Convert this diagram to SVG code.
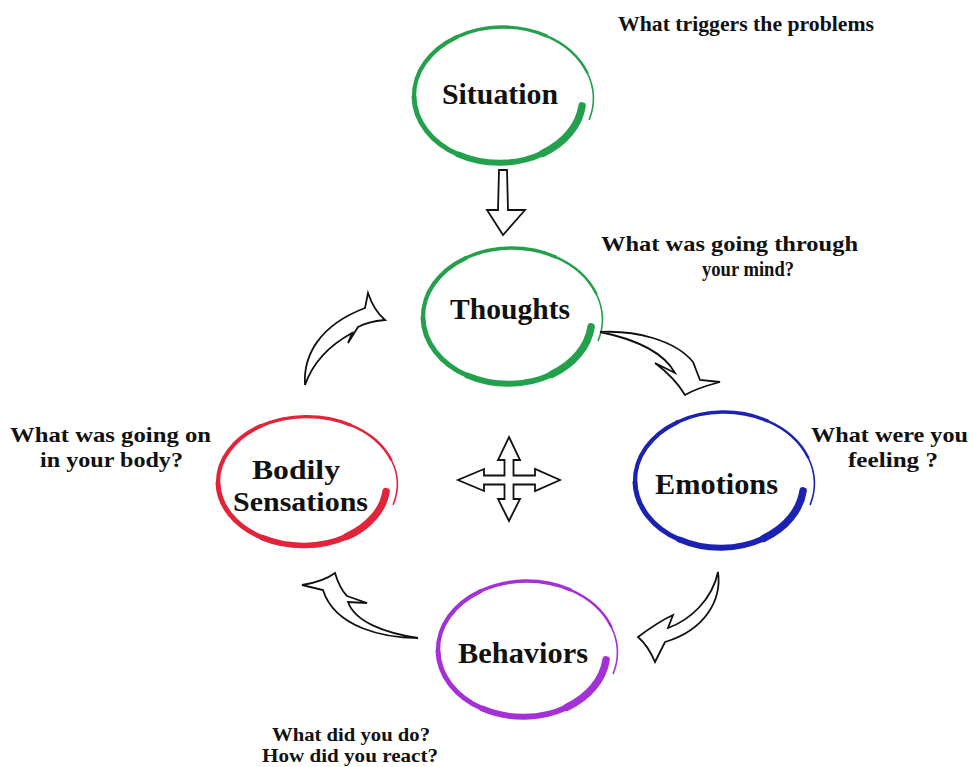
<svg xmlns="http://www.w3.org/2000/svg" xmlns:xlink="http://www.w3.org/1999/xlink" width="974" height="767" viewBox="0 0 974 767">
  <style>
    .label { font-family: "Liberation Serif", "Times New Roman", serif; font-weight: bold; font-size: 29px; fill: #111; }
    .label.two { font-size: 28px; }
    .note { font-family: "Liberation Serif", "Times New Roman", serif; font-weight: bold; font-size: 21px; fill: #111; }
    .note.small { font-size: 19px; }
    .arrow { fill: #fff; stroke: #111; stroke-width: 1.8; stroke-linejoin: miter; }
  </style>
  <defs>
    <!-- hand-drawn spiral ring: thick at lower right, tapering clockwise to a thin tail -->
    <g id="spiral" fill="none" stroke="currentColor" stroke-linecap="round">
      <path d="M81.10,8.89 A82.6,64.5 0 0 1 41.72,56.38" stroke-width="7.5"/>
      <path d="M41.72,56.38 A84.3,65.8 0 0 1 -42.60,57.57" stroke-width="6"/>
      <path d="M-42.60,57.57 A86.1,67.2 0 0 1 -86.98,0" stroke-width="5"/>
      <path d="M-86.98,0 A87.8,68.5 0 0 1 -44.37,-59.96" stroke-width="4.2"/>
      <path d="M-44.37,-59.96 A89.6,69.9 0 0 1 45.26,-61.16" stroke-width="3.4"/>
      <path d="M45.26,-61.16 A91.1,71.1 0 0 1 86.17,-24.47" stroke-width="2.6"/>
      <path d="M86.17,-24.47 A92.3,72 0 0 1 88.28,22.38" stroke-width="1.6"/>
    </g>
  </defs>

  <rect width="974" height="767" fill="#fff"/>

  <!-- nodes -->
  <g id="situation">
    <use xlink:href="#spiral" href="#spiral" transform="translate(501,97)" style="color:#22a04b"/>
    <text class="label" x="442" y="104" textLength="116" lengthAdjust="spacingAndGlyphs">Situation</text>
    <text class="note" x="618" y="31" textLength="256" lengthAdjust="spacingAndGlyphs">What triggers the problems</text>
  </g>

  <g id="thoughts">
    <use xlink:href="#spiral" href="#spiral" transform="translate(510,318)" style="color:#22a04b"/>
    <text class="label" x="450" y="319" textLength="120" lengthAdjust="spacingAndGlyphs">Thoughts</text>
    <text class="note" x="601" y="251" textLength="257" lengthAdjust="spacingAndGlyphs">What was going through</text>
    <text class="note" x="702" y="276" textLength="92" lengthAdjust="spacingAndGlyphs">your mind?</text>
  </g>

  <g id="emotions">
    <use xlink:href="#spiral" href="#spiral" transform="translate(722,482)" style="color:#1b22b2"/>
    <text class="label" x="655" y="494" textLength="123" lengthAdjust="spacingAndGlyphs">Emotions</text>
    <text class="note" x="811" y="442" textLength="157" lengthAdjust="spacingAndGlyphs">What were you</text>
    <text class="note" x="848" y="467" textLength="90" lengthAdjust="spacingAndGlyphs">feeling ?</text>
  </g>

  <g id="bodily-sensations">
    <use xlink:href="#spiral" href="#spiral" transform="translate(305,483) scale(1,0.95)" style="color:#e2243a"/>
    <text class="label two" x="252" y="479" textLength="88" lengthAdjust="spacingAndGlyphs">Bodily</text>
    <text class="label two" x="233" y="511" textLength="135" lengthAdjust="spacingAndGlyphs">Sensations</text>
    <text class="note" x="10" y="442" textLength="201" lengthAdjust="spacingAndGlyphs">What was going on</text>
    <text class="note" x="40" y="467" textLength="143" lengthAdjust="spacingAndGlyphs">in your body?</text>
  </g>

  <g id="behaviors">
    <use xlink:href="#spiral" href="#spiral" transform="translate(525,651)" style="color:#a431d6"/>
    <text class="label" x="458" y="663" textLength="130" lengthAdjust="spacingAndGlyphs">Behaviors</text>
    <text class="note small" x="272" y="741" textLength="158" lengthAdjust="spacingAndGlyphs">What did you do?</text>
    <text class="note small" x="262" y="762" textLength="176" lengthAdjust="spacingAndGlyphs">How did you react?</text>
  </g>

  <!-- connectors -->
  <g id="connectors">
    <!-- situation to thoughts -->
    <path class="arrow" d="M499,170 L507,170 L508,210 L525,210 L503,235 L487,210 L498,210 Z"/>
    <!-- thoughts to emotions -->
    <path class="arrow" d="M600,332 C635,330 675,340 693,362 L700,380 L720,382 C705,386 693,390 685,395 C678,383 667,372 655,363 L675,373 C665,355 640,340 600,332 Z"/>
    <!-- emotions to behaviors -->
    <path class="arrow" d="M718,572 C722,600 705,630 665,642 L655,662 C650,650 645,643 638,637 C650,628 662,620 673,615 L668,628 C690,620 712,600 718,572 Z"/>
    <!-- behaviors to bodily sensations -->
    <path class="arrow" d="M302,585 C315,583 327,579 335,573 C338,583 342,591 347,596 L367,603 L348,602 C355,622 385,633 418,638 C385,638 335,628 323,590 Z"/>
    <!-- bodily sensations to thoughts -->
    <path class="arrow" d="M305,385 C303,355 320,325 365,308 L368,293 C372,305 378,314 385,320 C375,321 365,323 358,327 L348,343 L352,333 C330,345 313,362 305,385 Z"/>
    <!-- central four-way arrow -->
    <path class="arrow" d="M509,437 L520,460 L513.5,460 L513.5,475.5 L535,475.5 L535,469 L560,480 L535,491 L535,484.5 L513.5,484.5 L513.5,499 L520,499 L509,521 L498,499 L504.5,499 L504.5,484.5 L484,484.5 L484,491 L458,480 L484,469 L484,475.5 L504.5,475.5 L504.5,460 L498,460 Z"/>
  </g>
</svg>
